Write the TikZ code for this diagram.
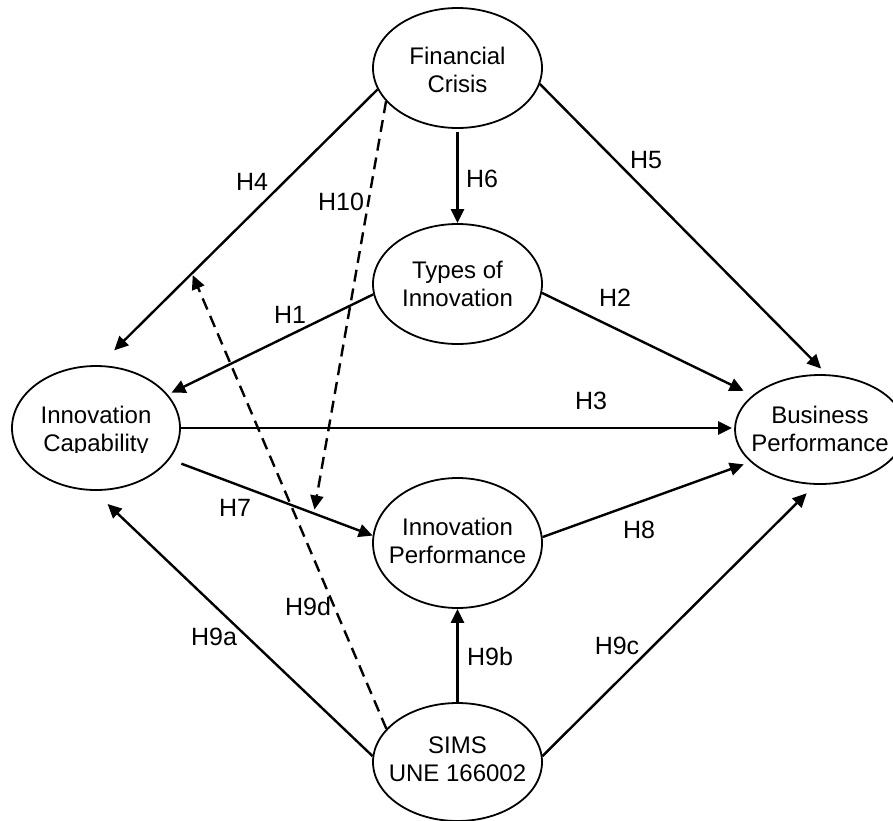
\documentclass[tikz,border=0pt]{standalone}
\usepackage{fontspec}
\setmainfont{Liberation Sans}
\usetikzlibrary{arrows.meta,shapes.geometric}
\begin{document}
\begin{tikzpicture}[x=1pt,y=-1pt,
  construct/.style={draw, ellipse, line width=1.8pt, inner sep=0pt,
    minimum width=169pt, minimum height=120pt},
  ctext/.style={align=center, inner sep=0pt, font=\fontsize{24}{28}\selectfont},
  hyp/.style={line width=2.4pt, -{Triangle[length=14pt,width=13pt]}},
  moder/.style={hyp, dash pattern=on 12pt off 7pt},
  hlabel/.style={inner sep=0pt, font=\fontsize{25}{30}\selectfont}
]
\useasboundingbox (0,0) rectangle (893,820);

% constructs
\node[construct, label={[ctext, yshift=-2pt]center:Financial\\Crisis}] (fc) at (457.5,68) {};
\node[construct, label={[ctext]center:Types of\\Innovation}] (tio) at (457.5,284) {};
\node[construct, minimum width=168pt, minimum height=124pt] (ic) at (96,428) {};
\node[construct, minimum width=170pt, minimum height=109pt,
      label={[ctext, yshift=1pt]center:Business\\Performance}] (bp) at (820,429.5) {};
\node[construct, minimum height=130pt,
      label={[ctext, yshift=2pt]center:Innovation\\Performance}] (ip) at (457.5,543) {};
\node[construct, minimum height=118pt,
      label={[ctext, yshift=3pt]center:SIMS\\UNE 166002}] (sims) at (457.5,762) {};

% the text box of this construct cuts off its last line
\begin{scope}
  \clip (0,0) rectangle (200,452.5);
  \node[ctext] (ictext) at (96,431) {Innovation\\Capability};
\end{scope}

% direct effects
\draw[hyp, shorten >=21pt] (fc.195.7) -- coordinate[pos=0.667] (h4mid) (ic.87.4);
\draw[hyp, shorten >=8pt] (fc.-11.5) -- (bp.83.2);
\draw[hyp, shorten <=3pt] (fc.270) -- (tio.90);
\draw[hyp, shorten >=4pt] (tio.187.2) -- (ic.25.9);
\draw[hyp, shorten >=10pt] (tio.-6) -- (bp.153.4);
\draw[hyp, shorten >=2pt] (ic.east) -- (ic.east -| bp.west);
\draw[hyp, shorten <=12.5pt] (ic.-23.6) -- coordinate[pos=0.71] (h7mid) (ip.175.9);
\draw[hyp, shorten >=7pt] (ip.4.7) -- (bp.205.6);
\draw[hyp, shorten >=19pt] (sims.176.6) -- (ic.268.6);
\draw[hyp] (sims.90) -- (ip.270);
\draw[hyp, shorten >=12pt] (sims.4.7) -- (bp.265.3);

% moderating effects
\draw[moder, shorten >=4pt] (fc.205.8) -- (h7mid);
\draw[moder, shorten >=2pt] (sims.155.4) -- (h4mid);

% hypothesis labels
\node[hlabel] (lh1) at (290,315) {H1};
\node[hlabel] (lh2) at (615,298) {H2};
\node[hlabel] (lh3) at (591,401) {H3};
\node[hlabel] (lh4) at (252,182) {H4};
\node[hlabel] (lh5) at (646,160) {H5};
\node[hlabel] (lh6) at (482,179) {H6};
\node[hlabel] (lh7) at (235,508) {H7};
\node[hlabel] (lh8) at (639,530) {H8};
\node[hlabel] (lh9a) at (214,637) {H9a};
\node[hlabel] (lh9b) at (490,657) {H9b};
\node[hlabel] (lh9c) at (617,646) {H9c};
\node[hlabel] (lh9d) at (308,607) {H9d};
\node[hlabel] (lh10) at (341,202) {H10};
\end{tikzpicture}
\end{document}
